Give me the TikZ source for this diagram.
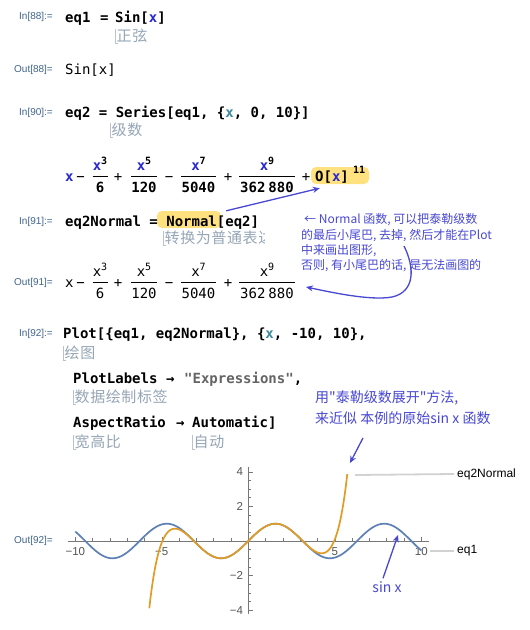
\documentclass[tikz,border=0pt]{standalone}
\usepackage{fontspec}
\setmainfont{Liberation Sans}
\newfontfamily\cjk{Noto Sans CJK SC}
\newfontfamily\cjkg{Noto Sans CJK SC}[LetterSpace=4]
\newfontfamily\mono{DejaVu Sans Mono}
\usetikzlibrary{arrows.meta}
\definecolor{lblue}{RGB}{64,100,140}
\definecolor{vblue}{RGB}{40,40,205}
\definecolor{lvar}{RGB}{60,140,160}
\definecolor{cgray}{RGB}{150,166,182}
\definecolor{brkc}{RGB}{185,195,206}
\definecolor{anb}{RGB}{72,72,210}
\definecolor{hl}{RGB}{255,225,128}
\definecolor{sgray}{RGB}{100,100,100}
\definecolor{cone}{RGB}{94,129,181}
\definecolor{ctwo}{RGB}{224,156,36}
\definecolor{axc}{RGB}{120,120,120}
\definecolor{tickc}{RGB}{85,85,85}
\definecolor{legc}{RGB}{210,210,210}
\newcommand\cf{\mono\bfseries\fontsize{14}{16}\selectfont}
\newcommand\rf{\mono\fontsize{14}{16}\selectfont}
% fraction: #1 name, #2 cx, #3 line y, #4 half width, #5 exponent, #6 denominator, #7 x fmt, #8 digit fmt
\newcommand\mfr[8]{%
  \node[mathn] (#1n) at (#2,#3-6) {{#7x}\raisebox{6pt}{\fontsize{10}{10}\selectfont #8#5}};
  \node[mathn] (#1d) at (#2,#3+16) {#8#6};
  \draw[fracl] (#2-#4,#3) -- (#2+#4,#3);
}
\newcommand\srow[4]{%
  \node[code, font=\rf] (#1x) at (65,#2+5) {{#3x}};
  \node[opb] (#1oa) at (80.5,#2+5) {−};
  \mfr{#1a}{100}{#2}{7.5}{3}{6}{#3}{#4}
  \node[opb] (#1ob) at (118,#2+5) {+};
  \mfr{#1b}{144}{#2}{13}{5}{120}{#3}{#4}
  \node[opb] (#1oc) at (169,#2+5) {−};
  \mfr{#1c}{198.5}{#2}{17.5}{7}{5040}{#3}{#4}
  \node[opb] (#1od) at (228,#2+5) {+};
  \mfr{#1d}{267}{#2}{28}{9}{362\hspace{3pt}880}{#3}{#4}
}
\newcommand\cnlabel[4]{%
  \draw[brk] (#2,#3-7) -- (#2,#3+7) -- (#2+2.5,#3+7);
  \node[cn] (#1) at (#2+1.5,#3) {#4};
}
\begin{document}
\begin{tikzpicture}[x=1pt,y=-1pt,
  lab/.style={font=\fontsize{10}{12}\selectfont, text=lblue, anchor=east, inner sep=0pt},
  code/.style={font=\cf, anchor=base west, inner sep=0pt},
  opb/.style={font=\rf, anchor=base, inner sep=0pt},
  mathn/.style={anchor=base, inner sep=0pt, font=\rf},
  fracl/.style={line width=0.8pt, black},
  cn/.style={font=\cjkg\fontsize{15}{17}\selectfont, text=cgray, anchor=west, inner sep=0pt},
  brk/.style={draw=brkc, line width=0.7pt},
  ann/.style={font=\cjk\fontsize{12}{14}\selectfont, text=anb, anchor=west, inner sep=0pt},
  annb/.style={font=\cjk\fontsize{14}{16}\selectfont, text=anb, anchor=west, inner sep=0pt},
  arr/.style={draw=anb, line width=1.3pt, -{Stealth[length=7pt,width=6pt]}},
  hlbox/.style={fill=hl, rounded corners=5pt, inner sep=0pt, draw=none},
  tk/.style={font=\fontsize{11.5}{13}\selectfont, text=tickc, inner sep=0pt},
  leglab/.style={font=\fontsize{12}{14}\selectfont, anchor=west, inner sep=0pt},
  leg/.style={draw=legc, line width=1.8pt},
]
\useasboundingbox (0,0) rectangle (530,630);
\fill[white] (0,0) rectangle (530,630);

% In[88]
\node[lab] (in88) at (53,17) {In[88]:=};
\node[code] (c88a) at (65,22) {eq1};
\node[code] (c88b) at (100,22) {=};
\node[code] (c88c) at (115,22) {Sin[{\color{vblue}x}]};
\cnlabel{g88}{115}{36}{正弦}
\node[lab] (out88) at (53,70) {Out[88]=};
\node[code, font=\rf] (o88) at (65,74) {Sin[x]};

% In[90]
\node[lab] (in90) at (53,113) {In[90]:=};
\node[code] (c90) at (65,117) {eq2 = Series[eq1, \{{\color{lvar}x}, 0, 10\}]};
\cnlabel{g90}{110}{130}{级数}

% Out[90] series
\node[hlbox, minimum width=58pt, minimum height=17pt] (ohl) at (340,175.5) {};
\srow{ra}{176}{\bfseries\color{vblue}}{\bfseries}
\node[opb] (raoe) at (306,181) {+};
\node[code] (ox) at (315,181) {O[{\color{vblue}x}]};
\node[code, font=\mono\bfseries\fontsize{10}{12}\selectfont] (o11) at (353,173) {11};

% In[91]
\node[hlbox, minimum width=64pt, minimum height=17pt] (normhl) at (189,219.5) {};
\node[lab] (in91) at (53,222) {In[91]:=};
\node[code] (c91) at (65,226) {eq2Normal = Normal[eq2]};
\begin{scope}
  \clip (150,225) rectangle (264,252);
  \cnlabel{g91}{163}{238}{转换为普通表达式}
\end{scope}
\node[lab] (out91) at (53,283) {Out[91]=};
\srow{rb}{282}{}{}

% annotation right
\node[ann] (n1) at (304,220) {← Normal 函数, 可以把泰勒级数};
\node[ann] (n2) at (301,235.5) {的最后小尾巴, 去掉, 然后才能在Plot};
\node[ann] (n3) at (301,251) {中来画出图形,};
\node[ann] (n4) at (301,266) {否则, 有小尾巴的话, 是无法画图的};

\draw[arr] ([xshift=5pt]normhl.north east) -- ([xshift=9pt,yshift=-4pt]ohl.south west);
\coordinate (a2s) at (404,246);
\coordinate (a2e) at (306,287);
\draw[arr] (a2s) .. controls (415,268) and (415,292) .. (392,297) .. controls (370,301) and (330,292) .. (a2e);

% In[92]
\node[lab] (in92) at (53,334) {In[92]:=};
\node[code] (c92) at (63,338) {Plot[\{eq1, eq2Normal\}, \{{\color{lvar}x}, -10, 10\},};
\cnlabel{g92}{63}{353}{绘图}
\node[code] (pla) at (73,383) {PlotLabels};
\node[code] (plb) at (166,383) {→};
\node[code] (plc) at (184,383) {{\color{sgray}"Expressions"},};
\cnlabel{g92b}{73}{397}{数据绘制标签}
\node[code] (ara) at (73,427) {AspectRatio};
\node[code] (arb) at (176,427) {→};
\node[code] (arc) at (192,427) {Automatic]};
\cnlabel{g92c}{73}{442}{宽高比}
\cnlabel{g92d}{192}{442}{自动}

\node[annb] (u1) at (315,398) {用"泰勒级数展开"方法,};
\node[annb] (u2) at (315,418) {来近似 本例的原始sin x 函数};
\coordinate (a3s) at (363,438);
\coordinate (a3e) at (350,463);
\draw[arr] (a3s) -- (a3e);

\node[lab] (out92) at (53,541) {Out[92]=};

% plot
\begin{scope}[shift={(248.3,541)}, x=17.3pt, y=17.3pt]
  \draw[axc, line width=0.8pt] (-10.45,0) -- (10.45,0);
  \draw[axc, line width=0.8pt] (0,-4.22) -- (0,4.3);
  \foreach \i in {-9,-8,-7,-6,-4,-3,-2,-1,1,2,3,4,6,7,8,9}
    \draw[axc, line width=0.6pt] (\i,0) -- (\i,0.15);
  \foreach \i in {-10,-5,5,10}
    \draw[axc, line width=0.6pt] (\i,0) -- (\i,0.25);
  \foreach \j in {-3.5,-3,-2.5,-1.5,-1,-0.5,0.5,1,1.5,2.5,3,3.5}
    \draw[axc, line width=0.6pt] (0,\j) -- (0.15,\j);
  \foreach \j in {-4,-2,2,4}
    \draw[axc, line width=0.6pt] (0,\j) -- (0.25,\j);
  \node[tk] (tx1) at (-10,-0.62) {−10};
  \node[tk] (tx2) at (-5,-0.62) {−5};
  \node[tk] (tx3) at (5,-0.62) {5};
  \node[tk] (tx4) at (10,-0.62) {10};
  \node[tk, anchor=east] (ty1) at (-0.3,4) {4};
  \node[tk, anchor=east] (ty2) at (-0.3,2) {2};
  \node[tk, anchor=east] (ty3) at (-0.3,-2) {−2};
  \node[tk, anchor=east] (ty4) at (-0.3,-4) {−4};
  \draw[cone, line width=1.7pt, smooth, domain=-10:10, samples=200] plot (\x, {sin(\x r)});
  \draw[ctwo, line width=1.7pt, smooth, domain=-5.722:5.722, samples=200]
    plot (\x, {\x*(1-\x*\x/6*(1-\x*\x/20*(1-\x*\x/42*(1-\x*\x/72))))});
\end{scope}

% legend
\node[leglab] (lg2) at (457,474) {eq2Normal};
\node[leglab] (lg1) at (457,551) {eq1};
\coordinate (lg2s) at (355,475);
\coordinate (lg1s) at (430,551);
\draw[leg] (lg2s) -- ([xshift=-3pt]lg2.west);
\draw[leg] (lg1s) -- ([xshift=-3pt]lg1.west);

\node[annb, anchor=center] (sinx) at (387,587) {sin x};
\coordinate (a4e) at (398,535);
\draw[arr] ([xshift=-4pt,yshift=3pt]sinx.north) -- (a4e);
\end{tikzpicture}
\end{document}
